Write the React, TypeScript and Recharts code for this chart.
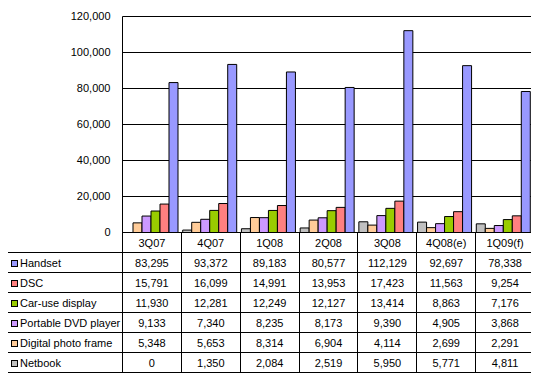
import { BarChart, Bar, XAxis, YAxis, CartesianGrid } from "recharts";

const quarters = ["3Q07", "4Q07", "1Q08", "2Q08", "3Q08", "4Q08(e)", "1Q09(f)"];
const handset = [83295, 93372, 89183, 80577, 112129, 92697, 78338];
const dsc = [15791, 16099, 14991, 13953, 17423, 11563, 9254];
const carDisplay = [11930, 12281, 12249, 12127, 13414, 8863, 7176];
const dvdPlayer = [9133, 7340, 8235, 8173, 9390, 4905, 3868];
const photoFrame = [5348, 5653, 8314, 6904, 4114, 2699, 2291];
const netbook = [0, 1350, 2084, 2519, 5950, 5771, 4811];
const yTicks = [0, 20000, 40000, 60000, 80000, 100000, 120000];

// table order (top to bottom); bars are drawn in reverse
const SERIES = [
  { key: "handset", name: "Handset", values: handset, color: "#9999FF" },
  { key: "dsc", name: "DSC", values: dsc, color: "#FF8080" },
  { key: "car", name: "Car-use display", values: carDisplay, color: "#99CC00" },
  { key: "dvd", name: "Portable DVD player", values: dvdPlayer, color: "#CC99FF" },
  { key: "photo", name: "Digital photo frame", values: photoFrame, color: "#FFCC99" },
  { key: "netbook", name: "Netbook", values: netbook, color: "#C0C0C0" },
];

const data = quarters.map((q, i) => {
  const row: Record<string, any> = { name: q };
  SERIES.forEach(s => { row[s.key] = s.values[i]; });
  return row;
});

const fmt = (v: number) => v.toLocaleString("en-US");
const FONT = "Arial, 'Liberation Sans', sans-serif";
const cell = { border: "1px solid #000", height: 19, padding: 0, textAlign: "center" as const, fontSize: 11 };

export default function App() {
  return (
    <div style={{ position: "relative", width: 539, height: 381, margin: -8, background: "#fff", fontFamily: FONT, color: "#000" }}>
      <BarChart width={539} height={381} data={data} margin={{ top: 16.5, right: 4.5, left: 0.5, bottom: 148.5 }}
        barCategoryGap={1.5} barGap={0}>
        <CartesianGrid vertical={false} stroke="#000" strokeOpacity={1} />
        <XAxis dataKey="name" height={0} tick={false} tickLine={false} axisLine={{ stroke: "#000" }} />
        <YAxis width={122} domain={[0, 120000]} ticks={yTicks} tickFormatter={fmt} tickLine={false}
          tickMargin={6} axisLine={{ stroke: "#000" }} interval={0}
          tick={{ fill: "#000", fontSize: 11, fontFamily: FONT }} />
        <YAxis yAxisId="r" orientation="right" width={1} domain={[0, 120000]} ticks={yTicks}
          tick={false} tickLine={false} axisLine={{ stroke: "#000" }} />
        {[...SERIES].reverse().map(s => (
          <Bar key={s.key} dataKey={s.key} name={s.name} fill={s.color} stroke="#000" strokeWidth={1}
            isAnimationActive={false} />
        ))}
      </BarChart>
      <table style={{ position: "absolute", left: 7, top: 232, width: 527, borderCollapse: "collapse", tableLayout: "fixed", fontFamily: FONT }}>
        <colgroup>
          <col style={{ width: 115 }} />
          {quarters.map(q => <col key={q} style={{ width: 58.86 }} />)}
        </colgroup>
        <tbody>
          <tr>
            <td style={{ ...cell, border: "none", borderRight: "1px solid #000" }} />
            {quarters.map(q => <td key={q} style={cell}>{q}</td>)}
          </tr>
          {SERIES.map(s => (
            <tr key={s.key}>
              <td style={{ ...cell, textAlign: "left", paddingLeft: 3, whiteSpace: "nowrap" }}>
                <span style={{ display: "inline-block", width: 5, height: 5, border: "1px solid #000", background: s.color, marginRight: 2, verticalAlign: "0px" }} />
                {s.name}
              </td>
              {s.values.map((v, i) => <td key={i} style={cell}>{fmt(v)}</td>)}
            </tr>
          ))}
        </tbody>
      </table>
    </div>
  );
}
